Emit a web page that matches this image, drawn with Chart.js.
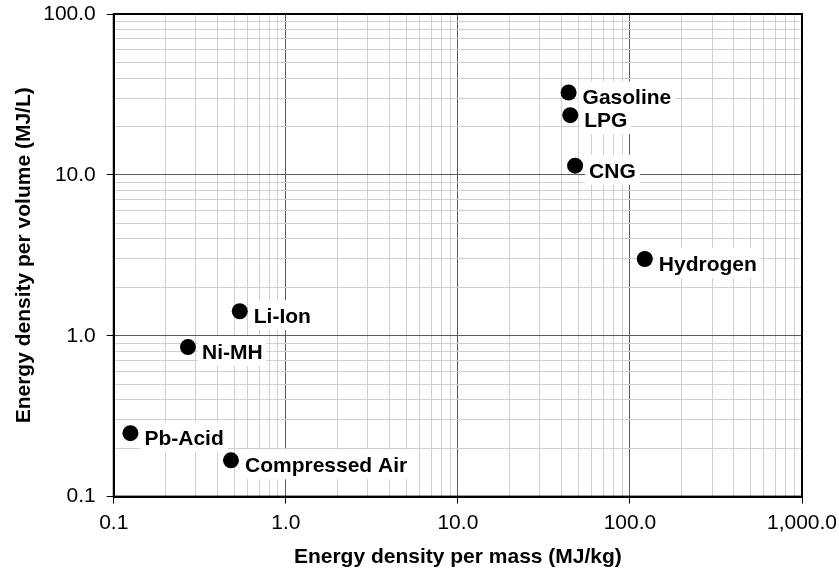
<!DOCTYPE html>
<html>
<head>
<meta charset="utf-8">
<script src="https://cdn.jsdelivr.net/npm/chart.js@4"></script>
<style>
  html, body { margin: 0; padding: 0; background: #fff; }
  #wrap { width: 839px; height: 572px; }
</style>
</head>
<body>
<div id="wrap"><canvas id="c" width="839" height="572"></canvas></div>
<script>
// ---- data ----
const categories = ["Gasoline", "LPG", "CNG", "Hydrogen", "Li-Ion", "Ni-MH", "Pb-Acid", "Compressed Air"];
const massDensity = [44, 45, 48, 122, 0.54, 0.27, 0.125, 0.48];      // MJ/kg
const volumeDensity = [32.5, 23.5, 11.4, 3.0, 1.42, 0.85, 0.248, 0.168]; // MJ/L
const xMajorTicks = [0.1, 1, 10, 100, 1000];
const yMajorTicks = [0.1, 1, 10, 100];
const xTitle = "Energy density per mass (MJ/kg)";
const yTitle = "Energy density per volume (MJ/L)";

// ---- helpers ----
function buildLogTicks(majors) {
  const out = [];
  for (let i = 0; i < majors.length; i++) {
    out.push({ value: majors[i], major: true });
    if (i < majors.length - 1) {
      for (let k = 2; k <= 9; k++) {
        out.push({ value: +(majors[i] * k).toPrecision(6), major: false });
      }
    }
  }
  return out.sort((a, b) => a.value - b.value);
}
function isMajorVal(v) {
  const l = Math.log10(v);
  return Math.abs(l - Math.round(l)) < 1e-9;
}
function fmt(v) {
  return v.toLocaleString('en-US', { minimumFractionDigits: 1, maximumFractionDigits: 1 });
}

const FONT = "'Liberation Sans', Arial, Helvetica, sans-serif";
const FS = 21;
Chart.defaults.font.family = FONT;
Chart.defaults.color = '#000';

const points = categories.map((c, i) => ({ x: massDensity[i], y: volumeDensity[i] }));

const frame = {
  id: 'frame',
  afterDatasetsDraw(chart) {
    const { ctx, chartArea: a } = chart;
    ctx.save();
    ctx.strokeStyle = '#000';
    ctx.lineWidth = 2;
    ctx.strokeRect(a.left, a.top, a.right - a.left, a.bottom - a.top);
    ctx.restore();
  }
};

const pointLabels = {
  id: 'pointLabels',
  afterDatasetsDraw(chart) {
    const { ctx } = chart;
    const meta = chart.getDatasetMeta(0);
    ctx.save();
    ctx.font = "bold " + FS + "px " + FONT;
    ctx.textBaseline = 'middle';
    ctx.textAlign = 'left';
    const pos = meta.data.map(el => ({ tx: el.x + 14, ty: el.y + 6 }));
    ctx.fillStyle = '#fff';
    pos.forEach((p, i) => {
      const w = ctx.measureText(categories[i]).width;
      ctx.fillRect(p.tx - 4, p.ty - 17, w + 8, 30);
    });
    ctx.fillStyle = '#000';
    pos.forEach((p, i) => ctx.fillText(categories[i], p.tx, p.ty));
    ctx.restore();
  }
};

function gridColor(ctx) {
  const t = ctx.tick;
  if (!t) return '#d0d0d0';
  return isMajorVal(t.value) ? '#5a5a5a' : '#cfcfcf';
}
function tickColor(ctx) {
  const t = ctx.tick;
  if (!t) return 'rgba(0,0,0,0)';
  return isMajorVal(t.value) ? '#000' : 'rgba(0,0,0,0)';
}

new Chart(document.getElementById('c'), {
  type: 'scatter',
  data: {
    datasets: [{
      data: points,
      backgroundColor: '#000',
      borderColor: '#000',
      pointRadius: 8,
      pointHoverRadius: 8,
      pointBorderWidth: 0
    }]
  },
  options: {
    responsive: false,
    animation: false,
    events: [],
    layout: { padding: { left: 8, right: 0, top: 0, bottom: 0 } },
    plugins: {
      legend: { display: false },
      tooltip: { enabled: false }
    },
    scales: {
      x: {
        type: 'logarithmic',
        min: 0.1,
        max: 1000,
        afterBuildTicks(scale) { scale.ticks = buildLogTicks(xMajorTicks); },
        afterFit(scale) { scale.paddingRight = 37; },
        ticks: {
          autoSkip: false,
          maxRotation: 0,
          padding: 7,
          font: { size: FS },
          callback(v) { return isMajorVal(v) ? fmt(v) : ''; }
        },
        grid: { color: gridColor, tickColor: tickColor, tickLength: 7, lineWidth: 1 },
        border: { display: true, color: '#000', width: 2 },
        title: {
          display: true,
          text: xTitle,
          font: { size: FS, weight: 'bold' },
          padding: { top: 2, bottom: 2 }
        }
      },
      y: {
        type: 'logarithmic',
        min: 0.1,
        max: 100,
        afterBuildTicks(scale) { scale.ticks = buildLogTicks(yMajorTicks); },
        afterFit(scale) { scale.paddingTop = 14; },
        ticks: {
          autoSkip: false,
          padding: 11,
          font: { size: FS },
          callback(v) { return isMajorVal(v) ? fmt(v) : ''; }
        },
        grid: { color: gridColor, tickColor: tickColor, tickLength: 7, lineWidth: 1 },
        border: { display: true, color: '#000', width: 2 },
        title: {
          display: true,
          text: yTitle,
          font: { size: FS, weight: 'bold' },
          padding: { top: 4, bottom: -5 }
        }
      }
    }
  },
  plugins: [frame, pointLabels]
});
</script>
</body>
</html>
